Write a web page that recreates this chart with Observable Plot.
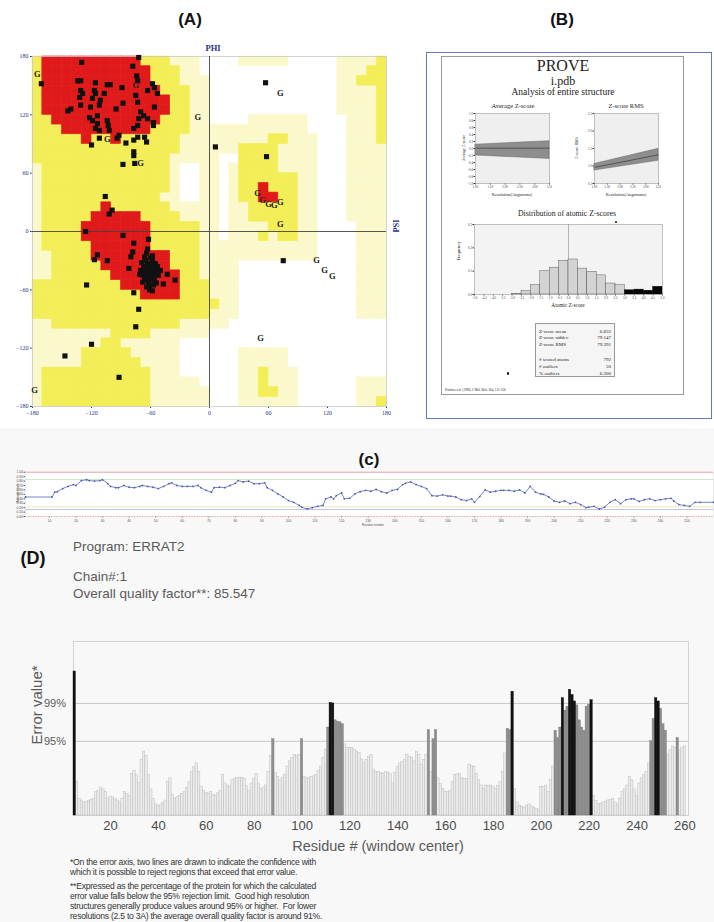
<!DOCTYPE html>
<html><head><meta charset="utf-8">
<script src="https://cdn.jsdelivr.net/npm/d3@7"></script>
<script src="https://cdn.jsdelivr.net/npm/@observablehq/plot@0.6"></script>
<style>
body{margin:0;background:#fff;}
#root{position:relative;width:714px;height:922px;overflow:hidden;font-family:"Liberation Sans",Arial,sans-serif;background:#fff;}
</style></head><body><div id="root"></div>
<script>
// ---------------- DATA ----------------
// (A) Ramachandran region map, 10-degree cells, rows from psi=180 down, run-length encoded: . white, l generous, y allowed, r core
const ramaRows = [
"y1r10y3l3.4l5.5l4y1","y1r11y3l2.14l3y2","y1r11y3l3.13l2y3","y1r12y3l2.13l4y1",
"y1r13y2l2.13l4y1","y1r13y2l2.13l4y1","y2r11y3l2.4l6.4l3y1","y3r9y4l12.4l3y1",
"y5r1y2r1y6l9y2l3.3l3y1","y15l6y4l4.3l4","y14l5.2y4l4.3l4","l1y13l1.2l2.1l1y4l4.3l4",
"l1y13l1.2l2.1l1y6l2.3l4","l1y13l1.2l2.1l1y2r1y3l2.3l4","l1y12l2.2l2.1l1y2r2y2l2.3l4","l1y6r1y6l5.1l2y5l2.3l4",
"l1y5r5y4l4.1l2y5l2.3l4","l1y4r7y5l2.1l4y3l2.4l3","l1y4r7y5l2.1l3y1l1y2l2.4l3","l1y5r6y5l12.4l3",
"l2y4r8y3l12.4l3","l2y5r7y3l4.12l3","l2y6r7y2l4.12l3","y9r6y3l3.12l3",
"y11r4y3l3.12l3","y19l2.12l3","y18l3.12l3","l2y13l5.16",
"l8y4l6.18","l7y2l6.21","l5y5l5.6l5.10","l5y6l4.6l5.10",
"l1y11l3.6l2y1l3.9","l1y11l5.4l2y1l3.6l3","l1y11l6.3l2y2l2.6l3","l1y11l6.3l6.6l2y1"
];
const angleTicks = [-180,-120,-60,0,60,120,180];
const ramaBeta = [[-72,179],[-130,174],[-171,152],[-78,170],[-74,160],[-73,155],[-134,155],[-131,155],[-116,153],[-104,151],[-101,151],[-89,148],[-58,152],[-56,148],[-63,145],[-53,142],[-131,145],[-129,142],[-132,138],[-117,145],[-116,142],[-119,137],[-107,142],[-75,140],[-73,133],[-88,132],[-111,135],[-112,130],[-121,128],[-131,130],[-95,126],[-56,128],[-144,124],[-141,126],[-70,123],[-67,119],[-72,116],[-63,116],[-57,112],[-57,109],[-122,117],[-119,114],[-114,119],[-114,111],[-116,106],[-112,104],[-104,114],[-103,109],[-102,104],[-73,109],[-77,106],[-112,96],[-94,96],[-92,99],[-85,91],[-73,97],[-77,94],[-66,97],[-64,92],[-120,89],[-77,82],[-77,78],[-88,69],[-76,70]];
const ramaAlpha = [[-106,36],[-102,18],[-99,22],[-126,0],[-88,-4],[-62,-8],[-77,-12],[-114,-24],[-117,-29],[-104,-30],[-82,-38],[-78,-21],[-80,-26],[-43,-44],[-35,-50],[-47,-54],[-58,-61],[-125,-55],[-77,-63],[-72,-80],[-75,-98],[-120,-116],[-147,-128],[-92,-150],
[-62,-40],[-60,-42],[-64,-38],[-58,-44],[-66,-42],[-61,-35],[-57,-38],[-63,-46],[-59,-48],[-67,-36],[-55,-41],[-65,-30],[-60,-27],[-68,-45],[-56,-50],[-62,-52],[-70,-40],[-53,-36],[-64,-22],[-58,-30],[-61,-56],[-66,-50],[-69,-32],[-52,-45],[-57,-55],[-63,-33],[-59,-37],[-65,-47],[-60,-45],[-62,-43],[-67,-39],[-55,-33],[-58,-25],[-63,-18],[-66,-26],[-61,-60],[-54,-53],[-71,-44],[-50,-40],[-64,-57],[-57,-47],[-60,-33],[-62,-36],[-68,-52],[-56,-44],[-59,-41],[-65,-44],[-61,-49],[-63,-41],[-58,-39]];
const ramaOther = [[57,153],[6,87],[58,77],[75,-30]];
const ramaGly = [[-175,162],[-75,150],[-12,118],[-104,95],[-70,70],[72,142],[49,39],[54,32],[60,28],[66,27],[72,30],[72,7],[109,-30],[117,-40],[125,-46],[52,-110],[-178,-163]];

// (B) PROVE
const resolutionTicks = [1.0,1.5,2.0,2.5,3.0,3.5];
const resolutionEnds = [1.0,3.5];
const avgZLow = [-0.20,-0.30], avgZHigh = [0.11,0.21], avgZMean = [0.01,0.01];
const avgZTicks = [-1.0,-0.8,-0.6,-0.4,-0.2,0.0,0.2,0.4,0.6,0.8,1.0];
const rmsZLow = [0.87,1.15], rmsZHigh = [1.06,1.49], rmsZMean = [0.96,1.32];
const rmsZTicks = [0.5,1.0,1.5,2.0,2.5];
const zBinStart = [-5.0,-4.5,-4.0,-3.5,-3.0,-2.5,-2.0,-1.5,-1.0,-0.5,0.0,0.5,1.0,1.5,2.0,2.5,3.0,3.5,4.0,4.5];
const zBinFreq  = [0,0,0,0,0.003,0.014,0.04,0.10,0.115,0.144,0.15,0.111,0.097,0.082,0.047,0.04,0.018,0.021,0.016,0.033];
const zTicks = [-5.0,-4.5,-4.0,-3.5,-3.0,-2.5,-2.0,-1.5,-1.0,-0.5,0.0,0.5,1.0,1.5,2.0,2.5,3.0,3.5,4.0,4.5,5.0];
const freqTicks = [0.0,0.1,0.2,0.3];
const statLabels = ["Z-score mean","Z-score stddev","Z-score RMS","","# scored atoms","# outliers","% outliers"];
const statValues = ["6.832","79.147","79.391","","792","50","6.300"];

// (C) residue profile
const profileResidues = [1,11,12,13,15,17,19,20,22,24,25,27,29,30,32,33,35,36,38,40,42,44,45,47,49,51,53,55,56,58,60,62,64,66,67,69,71,72,74,76,78,80,81,83,85,87,89,91,92,94,96,98,100,102,104,105,107,109,111,113,114,116,117,118,120,121,123,125,127,129,131,133,135,137,139,141,143,144,146,148,150,152,154,156,158,160,161,163,165,167,169,170,172,174,176,178,180,181,183,185,187,189,191,193,195,196,198,200,202,204,206,208,210,212,213,215,217,219,221,223,225,227,229,230,232,234,236,238,240,242,244,245,247,249,251,253,255,260];
const profileScores = [0.44,0.44,0.55,0.56,0.63,0.68,0.72,0.70,0.81,0.83,0.81,0.80,0.81,0.83,0.74,0.68,0.65,0.65,0.70,0.66,0.65,0.68,0.70,0.68,0.66,0.63,0.68,0.74,0.76,0.70,0.68,0.68,0.68,0.70,0.65,0.59,0.55,0.65,0.66,0.65,0.70,0.75,0.81,0.78,0.80,0.74,0.74,0.76,0.65,0.59,0.51,0.44,0.36,0.32,0.25,0.21,0.17,0.20,0.23,0.25,0.40,0.44,0.40,0.47,0.53,0.40,0.41,0.51,0.56,0.59,0.57,0.61,0.56,0.53,0.59,0.61,0.72,0.75,0.78,0.72,0.68,0.63,0.47,0.46,0.49,0.46,0.46,0.44,0.38,0.36,0.40,0.32,0.45,0.60,0.55,0.57,0.59,0.59,0.59,0.57,0.60,0.53,0.68,0.55,0.51,0.50,0.44,0.35,0.32,0.35,0.29,0.32,0.27,0.20,0.21,0.23,0.17,0.21,0.32,0.38,0.29,0.38,0.40,0.40,0.34,0.38,0.40,0.36,0.38,0.40,0.41,0.35,0.27,0.25,0.23,0.32,0.32,0.32];
const profileRefLines = [{v:1.0,c:"#f0a0a0"},{v:0.835,c:"#cfe5c4"},{v:0.22,c:"#ece6b0"},{v:0.158,c:"#b8bce0"}];
const profileXTicks = [10,20,30,40,50,60,70,80,90,100,110,120,130,140,150,160,170,180,190,200,210,220,230,240,250];
const profileYTicks = [0,0.1,0.2,0.3,0.4,0.5,0.6,0.7,0.8,0.9,1.0];

// (D) ERRAT2
const errFirstResidue = 5;
const errValues = [
22.1,5.2,2.5,2.3,2.0,2.1,2.2,2.4,2.5,3.6,
3.8,4.3,4.0,3.6,2.6,2.9,2.8,2.5,2.3,2.0,
2.6,3.6,3.3,3.0,6.4,6.8,6.2,5.0,8.5,9.8,
9.1,6.2,4.0,2.5,1.7,1.5,1.6,1.9,2.3,5.2,
5.7,3.2,2.6,2.8,3.0,3.3,3.6,4.2,5.1,6.7,
7.4,8.0,6.7,4.4,3.8,3.5,3.3,3.6,3.2,3.0,
3.4,3.8,6.2,4.9,4.6,4.4,5.4,5.6,5.8,5.8,
5.8,5.6,4.5,3.8,4.9,5.6,6.4,4.9,4.1,4.3,
4.6,6.7,9.1,11.7,6.5,5.9,5.4,5.8,6.2,7.5,
8.3,8.8,9.3,9.1,9.3,11.7,5.9,5.7,5.7,5.9,
6.0,6.2,6.8,7.5,8.8,10.1,13.5,17.3,17.2,14.6,
14.4,14.3,14.0,10.9,10.4,10.4,10.4,10.1,9.8,9.6,
8.6,8.0,8.5,9.0,9.3,7.0,6.7,6.7,6.5,6.4,
6.7,6.6,6.4,4.9,6.5,7.5,8.0,8.2,8.5,9.3,
9.0,8.8,8.3,9.8,9.3,7.8,8.5,9.3,13.1,6.7,
11.7,13.1,5.7,4.8,4.1,3.6,3.6,3.7,5.1,6.2,
6.3,6.4,5.7,5.6,5.6,7.8,7.6,7.5,6.4,5.4,
4.6,4.1,4.6,4.5,4.6,4.4,4.1,4.5,5.1,6.7,
9.5,13.3,13.1,19.0,4.1,2.0,1.5,1.3,1.2,1.5,
1.7,1.4,1.2,1.0,0.8,4.4,4.4,4.6,3.6,5.5,
7.5,13.0,11.9,13.5,18.0,16.1,16.7,19.3,18.5,17.5,
16.9,14.6,13.5,13.0,16.7,17.0,17.7,3.0,2.2,1.7,
1.8,2.0,2.1,2.3,2.4,2.5,2.0,1.7,2.6,3.6,
4.0,4.6,5.9,5.4,4.0,3.0,4.9,5.7,6.2,6.7,
8.0,11.4,14.8,18.0,17.5,16.4,14.0,13.0,9.3,10.0,
10.6,10.4,11.9,10.0,10.4,10.6];
const errLimits = [11.38, 17.19]; // 95%, 99%
const errTicks = [20,40,60,80,100,120,140,160,180,200,220,240,260];
const footnotes = [
 "*On the error axis, two lines are drawn to indicate the confidence with",
 "which it is possible to reject regions that exceed that error value.",
 "**Expressed as the percentage of the protein for which the calculated",
 "error value falls below the 95% rejection limit.  Good high resolution",
 "structures generally produce values around 95% or higher.  For lower",
 "resolutions (2.5 to 3A) the average overall quality factor is around 91%."
];

// ---------------- HELPERS ----------------
const root = document.getElementById("root");
function put(node, left, top){ node.style.position="absolute"; node.style.left=left+"px"; node.style.top=top+"px"; root.appendChild(node); return node; }
function txt(text, x, y, css, anchor, rot){
  const d=document.createElement("div"); d.textContent=text;
  const tx = anchor==="start"?"0":anchor==="end"?"-100%":"-50%";
  d.style.cssText=`position:absolute;left:${x}px;top:${y}px;white-space:pre;line-height:1;transform:translate(${tx},-50%) rotate(${rot||0}deg);`+css;
  root.appendChild(d); return d;
}
function box(x,y,w,h,css){ const d=document.createElement("div"); d.style.cssText=`position:absolute;left:${x}px;top:${y}px;width:${w}px;height:${h}px;box-sizing:border-box;`+css; root.appendChild(d); return d;}

// bottom background
box(0,428,714,494,"background:#f8f8f8;");

// ---------------- (A) ----------------
const cells=[];
ramaRows.forEach((row,j)=>{
  let i=0;
  for (const m of row.matchAll(/([.lyr])(\d+)/g)) {
    const n=+m[2];
    for(let k=0;k<n;k++,i++){ if(m[1]!==".") cells.push({phi1:-180+10*i,phi2:-170+10*i,psi1:170-10*j,psi2:180-10*j,region:m[1]}); }
  }
});
const regionColor={l:"#fbf8cc",y:"#f3ee58",r:"#e01a1a"};
const rama = Plot.plot({
  width:410, height:425, marginLeft:32, marginRight:24, marginTop:56, marginBottom:19,
  x:{domain:[-180,180], ticks:angleTicks, tickSize:2, tickPadding:2, label:null},
  y:{domain:[-180,180], ticks:angleTicks, tickSize:2, tickPadding:2, label:null},
  style:{fontFamily:"Liberation Serif",fontSize:"6px",color:"#28338a",background:"transparent",overflow:"visible"},
  marks:[
    ...["l","y","r"].map(k=>Plot.rect(cells.filter(d=>d.region===k),{x1:"phi1",x2:"phi2",y1:"psi1",y2:"psi2",fill:regionColor[k],stroke:regionColor[k],strokeWidth:0.6})),
    Plot.frame({stroke:"#c8c8c8",strokeWidth:0.8}),
    Plot.ruleX([0],{stroke:"#444",strokeWidth:0.9}),
    Plot.ruleY([0],{stroke:"#444",strokeWidth:0.9}),
    Plot.dot([...ramaBeta,...ramaAlpha,...ramaOther],{x:d=>d[0],y:d=>d[1],symbol:"square",r:2.9,fill:"#111",stroke:"none"}),
    Plot.text(ramaGly,{x:d=>d[0],y:d=>d[1],text:()=>"G",fontSize:8.5,fontWeight:"bold",fontFamily:"Liberation Serif",fill:"#222"})
  ]
});
put(rama,0,0);
txt("PHI",213,48,"font:bold 8.5px 'Liberation Serif';color:#28338a;");
txt("PSI",396,226,"font:bold 8.5px 'Liberation Serif';color:#28338a;","middle",-90);
txt("(A)",190,20,"font:bold 17px 'Liberation Sans';color:#111;");
txt("(B)",562,20,"font:bold 17px 'Liberation Sans';color:#111;");

// ---------------- (B) ----------------
box(426,52,286,367,"border:1.5px solid #6377c4;background:#fff;");
box(441,56,243,339,"border:1px solid #9a9a9a;background:#fff;");
const serif="font-family:'Liberation Serif',serif;color:#222;";
txt("PROVE",563,66,serif+"font-size:16px;");
txt("i.pdb",563,80.5,serif+"font-size:12px;");
txt("Analysis of entire structure",563,92.5,serif+"font-size:9.5px;");
txt("Average Z-score",513,106,serif+"font-size:6.5px;");
txt("Z-score RMS",626,106,serif+"font-size:6.5px;");

const bandA = resolutionEnds.map((r,i)=>({r,lo:avgZLow[i],hi:avgZHigh[i],m:avgZMean[i]}));
const bandR = resolutionEnds.map((r,i)=>({r,lo:rmsZLow[i],hi:rmsZHigh[i],m:rmsZMean[i]}));
function miniChart(data, yDomain, yTicks, yFmt, w){
  return Plot.plot({
    width:12+w+3, height:80, marginLeft:12, marginRight:3, marginTop:2, marginBottom:8,
    x:{domain:[1,3.5], ticks:resolutionTicks, tickFormat:d3.format(".2f"), tickSize:1.5, tickPadding:1, label:null},
    y:{domain:yDomain, ticks:yTicks, tickFormat:d3.format(yFmt), tickSize:1.5, tickPadding:1, label:null},
    style:{fontFamily:"Liberation Serif",fontSize:"3.2px",color:"#333",background:"transparent"},
    marks:[
      Plot.frame({fill:"#efefef"}),
      Plot.areaY(data,{x:"r",y1:"lo",y2:"hi",fill:"#8e8e8e",stroke:"#555",strokeWidth:0.4}),
      Plot.lineY(data,{x:"r",y:"m",stroke:"#444",strokeWidth:0.8}),
      Plot.frame({stroke:"#888",strokeWidth:0.5})
    ]
  });
}
put(miniChart(bandA,[-1,1],avgZTicks,".1f",74),463,111);
put(miniChart(bandR,[0.5,2.5],rmsZTicks,".1f",64),582,111);
txt("Average Z-score",464,148,serif+"font-size:4px;","middle",-90);
txt("Z-score RMS",577,148,serif+"font-size:4px;","middle",-90);
txt("Resolution(Angstroms)",512,194.5,serif+"font-size:4.3px;");
txt("Resolution(Angstroms)",626,194.5,serif+"font-size:4.3px;");

const bins = zBinStart.map((x,i)=>({x1:x,x2:x+0.5,f:zBinFreq[i]}));
const hist = Plot.plot({
  width:204, height:80, marginLeft:12, marginRight:4, marginTop:2, marginBottom:8,
  x:{domain:[-5,5], ticks:zTicks, tickFormat:d3.format(".1f"), tickSize:1.5, tickPadding:1, label:null},
  y:{domain:[0,0.3], ticks:freqTicks, tickFormat:d3.format(".1f"), tickSize:1.5, tickPadding:1, label:null},
  style:{fontFamily:"Liberation Serif",fontSize:"3.2px",color:"#333",background:"transparent"},
  marks:[
    Plot.frame({fill:"#f3f3f3"}),
    Plot.ruleX([0],{stroke:"#777",strokeWidth:0.5}),
    Plot.rectY(bins.filter(d=>d.x1<3),{x1:"x1",x2:"x2",y:"f",fill:"#d3d3d3",stroke:"#444",strokeWidth:0.4}),
    Plot.rectY(bins.filter(d=>d.x1>=3),{x1:"x1",x2:"x2",y:"f",fill:"#050505",stroke:"#000",strokeWidth:0.4}),
    Plot.frame({stroke:"#888",strokeWidth:0.5})
  ]
});
put(hist,462,222);
txt("Distribution of atomic Z-scores",567,214,serif+"font-size:7.8px;");
txt("Frequency",459,251,serif+"font-size:4.5px;","middle",-90);
txt("Atomic Z-score",568,306,serif+"font-size:5.3px;");
box(535,323,80,54,"border:0.8px solid #999;background:#f5f5f5;");
statLabels.forEach((s,i)=>{
  const y = 330.5 + (i<3 ? i*6.5 : 28 + (i-4)*7);
  if(s){ txt(s,539,y,serif+"font-size:5px;","start"); txt(statValues[i],611,y,serif+"font-size:5px;","end"); }
});
box(506.5,372,2.6,2.6,"background:#111;border-radius:50%;");
box(614.5,220.5,2.6,2.6,"background:#111;border-radius:50%;");
txt("Pontius et al. (1996) J. Mol. Biol. 264, 121-136",445,391,serif+"font-size:3.2px;","start");

// ---------------- (C) ----------------
const profile = profileResidues.map((r,i)=>({r,s:profileScores[i]}));
const prof = Plot.plot({
  width:714, height:75, marginLeft:25, marginRight:1, marginTop:16.7, marginBottom:14,
  x:{domain:[1,260], ticks:profileXTicks, tickSize:1.5, tickPadding:1.5, label:null},
  y:{domain:[0,1], ticks:profileYTicks, tickSize:1.5, tickPadding:1, tickFormat:d3.format(".2f"), label:null},
  style:{fontFamily:"Liberation Sans",fontSize:"3.4px",color:"#555",background:"transparent"},
  marks:[
    Plot.frame({fill:"#ffffff",stroke:"#dcdcdc",strokeWidth:0.6}),
    ...profileRefLines.map(l=>Plot.ruleY([l.v],{stroke:l.c,strokeWidth:0.9})),
    Plot.ruleY([0],{stroke:"#f0a070",strokeWidth:1.2,strokeDasharray:"1,1.6"}),
    Plot.line(profile,{x:"r",y:"s",stroke:"#5566b8",strokeWidth:0.8}),
    Plot.dot(profile,{x:"r",y:"s",r:0.9,fill:"#4a5ab0",stroke:"none"})
  ]
});
put(prof,0,455);
txt("(c)",369,460,"font:bold 17px 'Liberation Sans';color:#111;");
txt("Residue number",373,524.5,"font-size:3px;color:#555;");
txt("Average score",18,493,"font-size:3px;color:#555;","middle",-90);

// ---------------- (D) ----------------
txt("(D)",33,558,"font:bold 18px 'Liberation Sans';color:#111;");
const grey="font-family:'Liberation Sans',Arial,sans-serif;color:#5a5a5a;";
txt("Program: ERRAT2",73,547,grey+"font-size:13.5px;","start");
txt("Chain#:1",73,577,grey+"font-size:13.5px;","start");
txt("Overall quality factor**: 85.547",73,594,grey+"font-size:13.5px;","start");
const bars = errValues.map((v,i)=>({res:errFirstResidue+i,v}));
const errat = Plot.plot({
  width:714, height:205, marginLeft:73, marginRight:26, marginTop:1, marginBottom:30,
  x:{domain:[4.5,261.5], ticks:errTicks, tickSize:0, tickPadding:5, label:null},
  y:{domain:[0,26.7], axis:null},
  style:{fontFamily:"Liberation Sans",fontSize:"13px",color:"#4a4a4a",background:"transparent"},
  marks:[
    Plot.frame({stroke:"#d4d4d4",strokeWidth:1}),
    Plot.ruleY(errLimits,{stroke:"#c9c9c9",strokeWidth:1}),
    Plot.rectY(bars.filter(d=>d.v<errLimits[0]),{x1:d=>d.res-0.5,x2:d=>d.res+0.5,y:"v",fill:"#ececec",stroke:"#bdbdbd",strokeWidth:0.5}),
    Plot.rectY(bars.filter(d=>d.v>=errLimits[0]&&d.v<errLimits[1]),{x1:d=>d.res-0.5,x2:d=>d.res+0.5,y:"v",fill:"#8f8f8f",stroke:"#7a7a7a",strokeWidth:0.4}),
    Plot.rectY(bars.filter(d=>d.v>=errLimits[1]),{x1:d=>d.res-0.5,x2:d=>d.res+0.5,y:"v",fill:"#111",stroke:"#111",strokeWidth:0.4})
  ]
});
put(errat,0,640);
txt("99%",66,703,grey+"font-size:11px;","end");
txt("95%",66,740.5,grey+"font-size:11px;","end");
txt("Error value*",36,705,grey+"font-size:15px;","middle",-90);
txt("Residue # (window center)",378,846,grey+"font-size:14.5px;");
footnotes.forEach((s,i)=>{
  const y = i<2 ? 862+i*10 : 886+(i-2)*10;
  txt(s,70,y,"font-family:'Liberation Sans',Arial;font-size:8.6px;color:#333;letter-spacing:-0.25px;","start");
});
</script></body></html>
